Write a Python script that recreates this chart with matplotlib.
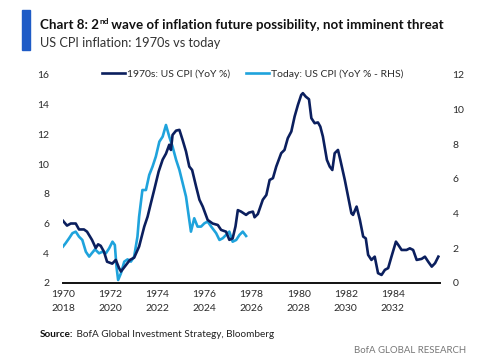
import matplotlib
matplotlib.use("Agg")
import matplotlib.pyplot as plt
from matplotlib.lines import Line2D
from matplotlib.patches import Rectangle

# ---------------- data ----------------
# 1970s US CPI YoY % (left axis), x in years
dark_years = [1970.0, 1970.17, 1970.33, 1970.54, 1970.68, 1970.89, 1971.02, 1971.23, 1971.39, 1971.49,
              1971.6, 1971.74, 1971.87, 1972.09, 1972.24, 1972.38, 1972.46, 1972.67, 1972.84, 1973.02,
              1973.23, 1973.45, 1973.59, 1973.73, 1973.87, 1974.06, 1974.23, 1974.37, 1974.51, 1974.58,
              1974.65, 1974.8, 1974.94, 1975.08, 1975.22, 1975.36, 1975.48, 1975.65, 1975.79, 1975.93,
              1976.14, 1976.35, 1976.57, 1976.71, 1976.92, 1977.06, 1977.2, 1977.32, 1977.42, 1977.56,
              1977.77, 1977.89, 1978.06, 1978.13, 1978.27, 1978.48, 1978.63, 1978.77, 1978.91, 1979.05,
              1979.26, 1979.4, 1979.54, 1979.69, 1979.83, 1979.97, 1980.11, 1980.18, 1980.3, 1980.44,
              1980.54, 1980.68, 1980.82, 1980.92, 1981.03, 1981.2, 1981.32, 1981.43, 1981.53, 1981.67,
              1981.77, 1981.96, 1982.1, 1982.24, 1982.31, 1982.46, 1982.6, 1982.74, 1982.85, 1982.95,
              1983.09, 1983.23, 1983.37, 1983.52, 1983.66, 1983.8, 1983.94, 1984.13, 1984.23, 1984.37,
              1984.58, 1984.72, 1984.86, 1985.01, 1985.22, 1985.36, 1985.5, 1985.65, 1985.79, 1985.93]
dark_values = [6.18, 5.86, 6.0, 6.0, 5.6, 5.6, 5.45, 4.9, 4.35, 4.6,
               4.5, 4.1, 3.43, 3.3, 3.55, 3.0, 2.77, 3.2, 3.55, 3.7,
               4.45, 5.8, 6.46, 7.37, 8.26, 9.5, 10.3, 10.7, 11.3, 10.95,
               11.96, 12.25, 12.3, 11.6, 10.85, 9.83, 9.6, 8.48, 7.6, 7.14,
               6.24, 6.0, 5.9, 5.57, 5.45, 4.9, 5.0, 5.8, 6.9, 6.8,
               6.58, 6.73, 6.8, 6.42, 6.64, 7.6, 7.92, 8.93, 9.05, 9.83,
               10.73, 10.95, 11.74, 12.19, 13.2, 13.98, 14.65, 14.77, 14.54, 14.36,
               13.09, 12.75, 12.8, 12.52, 11.85, 10.28, 9.83, 9.6, 10.73, 10.95,
               10.28, 8.93, 7.81, 6.69, 6.58, 7.14, 6.24, 5.12, 5.0, 3.89,
               3.55, 3.77, 2.66, 2.54, 2.88, 3.0, 3.77, 4.78, 4.56, 4.22,
               4.22, 4.33, 4.22, 3.55, 3.62, 3.77, 3.43, 3.1, 3.33, 3.77]

# Today US CPI YoY % (right axis), x in years
today_years = [2018.0, 2018.11, 2018.26, 2018.4, 2018.54, 2018.68, 2018.82, 2018.97, 2019.11, 2019.22,
               2019.36, 2019.53, 2019.67, 2019.82, 2019.96, 2020.1, 2020.2, 2020.27, 2020.34, 2020.46,
               2020.6, 2020.74, 2020.88, 2021.02, 2021.16, 2021.23, 2021.37, 2021.52, 2021.66, 2021.8,
               2021.94, 2022.09, 2022.23, 2022.37, 2022.51, 2022.65, 2022.8, 2022.94, 2023.08, 2023.22,
               2023.36, 2023.43, 2023.57, 2023.71, 2023.86, 2024.0, 2024.14, 2024.29, 2024.5, 2024.64,
               2024.78, 2024.92, 2025.06, 2025.2, 2025.35, 2025.49, 2025.63, 2025.77]
today_values = [2.1, 2.29, 2.58, 2.87, 2.96, 2.67, 2.48, 1.8, 1.52, 1.71,
                1.94, 1.71, 1.8, 1.71, 2.0, 2.38, 2.19, 0.94, 0.17, 0.56,
                1.23, 1.36, 1.23, 1.52, 2.67, 3.82, 5.36, 5.36, 6.23, 6.71,
                7.29, 8.15, 8.44, 9.11, 8.44, 7.86, 7.1, 6.52, 5.75, 4.98,
                3.63, 2.96, 3.73, 3.25, 3.25, 3.44, 3.54, 3.25, 2.87, 2.48,
                2.58, 2.77, 2.96, 2.38, 2.48, 2.77, 2.96, 2.71]

year_offset = 48  # today series shifted onto 1970s timeline
x_ticks = [1970, 1972, 1974, 1976, 1978, 1980, 1982, 1984]
x_ticklabels = ["1970\n2018", "1972\n2020", "1974\n2022", "1976\n2024",
                "1978\n2026", "1980\n2028", "1982\n2030", "1984\n2032"]
left_ticks = [2, 4, 6, 8, 10, 12, 14, 16]
right_ticks = [0, 2, 4, 6, 8, 10, 12]

label_dark = "1970s: US CPI (YoY %)"
label_today = "Today: US CPI (YoY % - RHS)"
title_a = "Chart 8: 2"
title_sup = "nd"
title_b = " wave of inflation future possibility, not imminent threat"
subtitle = "US CPI inflation: 1970s vs today"
source_bold = "Source:"
source_rest = " BofA Global Investment Strategy, Bloomberg"
brand = "BofA GLOBAL RESEARCH"

# ---------------- style ----------------
FONT = "Lato"
plt.rcParams['font.family'] = [FONT, 'DejaVu Sans']
navy = "#0b1f5e"
light = "#1fa3dc"
txt = "#2b2b2b"

fig = plt.figure(figsize=(5.0, 3.6), dpi=100)
fig.patch.set_facecolor("white")

ax = fig.add_axes([0.126, 0.214, 0.754, 0.578])
ax2 = ax.twinx()

ax.plot(dark_years, dark_values, color=navy, lw=1.9, solid_joinstyle="round", zorder=3)
ax2.plot([y - year_offset for y in today_years], today_values, color=light, lw=1.9,
         solid_joinstyle="round", zorder=2)
ax.set_zorder(ax2.get_zorder() + 1)
ax.patch.set_visible(False)

ax.set_xlim(1970, 1986)
ax.set_ylim(2, 16)
ax2.set_ylim(0, 12)
ax.set_xticks(x_ticks)
ax.set_xticklabels(x_ticklabels, linespacing=1.75)
ax.set_yticks(left_ticks)
ax2.set_yticks(right_ticks)

for a in (ax, ax2):
    for s in a.spines.values():
        s.set_visible(False)
    a.tick_params(length=0, labelsize=7.5, colors=txt)
ax.spines['bottom'].set_visible(True)
ax.spines['bottom'].set_color("#111111")
ax.spines['bottom'].set_linewidth(1.4)
ax.tick_params(axis='y', pad=10)
ax.tick_params(axis='x', pad=5)
ax2.tick_params(axis='y', pad=9)

handles = [Line2D([], [], color=navy, lw=1.9), Line2D([], [], color=light, lw=1.9)]
leg = ax.legend(handles, [label_dark, label_today], ncol=2, frameon=False,
                loc="center", bbox_to_anchor=(0.503, 1.005), fontsize=7.5,
                handlelength=2.2, handletextpad=0.15, columnspacing=1.6)
for t in leg.get_texts():
    t.set_color(txt)

# ---------------- header / footer ----------------
fig.patches.append(Rectangle((22 / 500, 1 - 50 / 360), 8 / 500, 40 / 360,
                             transform=fig.transFigure, color="#1e5bc6", zorder=5))

fig.canvas.draw()
renderer = fig.canvas.get_renderer()

def put_seq(parts, x, y):
    """Place text parts one after another (figure coords)."""
    for s, kw, dy in parts:
        t = fig.text(x, y + dy, s, va="baseline", ha="left", **kw)
        bb = t.get_window_extent(renderer)
        x = bb.x1 / fig.bbox.width

put_seq([(title_a, dict(fontsize=9.6, fontweight="bold", color="#111111"), 0),
         (title_sup, dict(fontsize=6.0, fontweight="bold", color="#111111"), 0.013),
         (title_b, dict(fontsize=9.6, fontweight="bold", color="#111111"), 0)],
        40 / 500, 1 - 29 / 360)
fig.text(40 / 500, 1 - 47 / 360, subtitle, fontsize=9.2, color="#333333", va="baseline")

put_seq([(source_bold, dict(fontsize=7.2, fontweight="bold", color="#111111"), 0),
         (source_rest, dict(fontsize=7.2, color="#222222"), 0)],
        40 / 500, 1 - 337 / 360)
fig.text(466 / 500, 1 - 353 / 360, brand, fontsize=6.9, color="#777777", ha="right", va="baseline")

fig.savefig("out.png", dpi=100, facecolor="white")
